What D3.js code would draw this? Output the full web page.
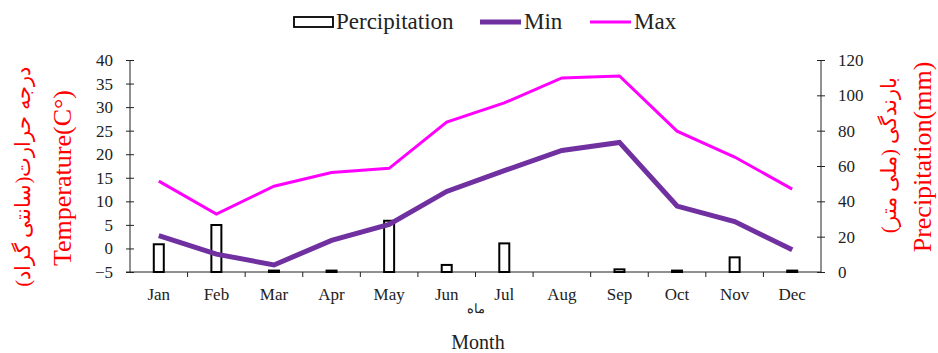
<!DOCTYPE html>
<html>
<head>
<meta charset="utf-8">
<script src="https://cdn.jsdelivr.net/npm/d3@7"></script>
<style>
  body { margin: 0; background: #fff; }
  text { font-family: "Liberation Serif", "Times New Roman", serif; }
</style>
</head>
<body>
<div id="chart"></div>
<script>
// Data
const months = ["Jan", "Feb", "Mar", "Apr", "May", "Jun", "Jul", "Aug", "Sep", "Oct", "Nov", "Dec"];
const precip = [15.7, 26.6, 0.8, 0.8, 29, 4, 16.2, 0, 1.5, 0.8, 8.3, 0.8];
const tMin = [2.7, -1.2, -3.5, 1.7, 5.1, 12.1, 16.5, 20.8, 22.5, 9.0, 5.7, -0.3];
const tMax = [14.3, 7.3, 13.2, 16.1, 17.0, 26.8, 30.9, 36.2, 36.6, 24.9, 19.4, 12.6];
const tempTicks = [-5, 0, 5, 10, 15, 20, 25, 30, 35, 40];
const precipTicks = [0, 20, 40, 60, 80, 100, 120];

const width = 938, height = 353;
const pLeft = 130, pRight = 821, pTop = 60, pBottom = 272;

const svg = d3.select("#chart").append("svg")
    .attr("width", width)
    .attr("height", height);

const x = d3.scaleBand().domain(months).range([pLeft, pRight]);
const yT = d3.scaleLinear().domain([-5, 40]).range([pBottom, pTop]);
const yP = d3.scaleLinear().domain([0, 120]).range([pBottom, pTop]);

// left axis
const gL = svg.append("g").attr("transform", `translate(${pLeft},0)`)
    .call(d3.axisLeft(yT).tickValues(tempTicks).tickSize(4).tickPadding(13));
gL.selectAll(".tick line").attr("x2", 4).attr("x1", -4);
// right axis
const gR = svg.append("g").attr("transform", `translate(${pRight},0)`)
    .call(d3.axisRight(yP).tickValues(precipTicks).tickSize(4).tickPadding(13));
gR.selectAll(".tick line").attr("x1", -4).attr("x2", 4);
[gL, gR].forEach(g => {
    g.select(".domain").attr("d", `M0,${pTop}V${pBottom}`);
    g.selectAll("text").style("font-size", "17px").attr("fill", "#222");
    g.selectAll("line,path").attr("stroke", "#222");
});

// x axis
const gX = svg.append("g").attr("transform", `translate(0,${pBottom})`);
gX.append("line").attr("x1", pLeft - 4).attr("x2", pRight).attr("stroke", "#222");
gX.selectAll(".sep").data(months.slice(1)).enter().append("line")
    .attr("x1", d => x(d)).attr("x2", d => x(d))
    .attr("y1", 0).attr("y2", 5).attr("stroke", "#222");
gX.selectAll(".lab").data(months).enter().append("text")
    .attr("x", d => x(d) + x.bandwidth() / 2)
    .attr("y", 28)
    .attr("text-anchor", "middle")
    .style("font-size", "17px")
    .attr("fill", "#222")
    .text(d => d);

// precipitation bars
const bw = 10;
svg.append("g").selectAll("rect").data(precip).enter().append("rect")
    .attr("x", (d, i) => x(months[i]) + x.bandwidth() / 2 - bw / 2)
    .attr("y", d => yP(d))
    .attr("width", bw)
    .attr("height", d => yP(0) - yP(d))
    .attr("fill", "#fff")
    .attr("stroke", "#000")
    .attr("stroke-width", 2)
    .style("display", d => d > 0 ? null : "none");

const line = d3.line().x((d, i) => x(months[i]) + x.bandwidth() / 2).y(d => yT(d));
svg.append("path").datum(tMax).attr("d", line)
    .attr("fill", "none").attr("stroke", "#FF00FF").attr("stroke-width", 3);
svg.append("path").datum(tMin).attr("d", line)
    .attr("fill", "none").attr("stroke", "#7030A0").attr("stroke-width", 5);

// axis titles
svg.append("text").attr("transform", "translate(71,178) rotate(-90)")
    .attr("text-anchor", "middle").attr("fill", "red").style("font-size", "26px")
    .text("Temperature(C°)");
svg.append("text").attr("transform", "translate(30,177) rotate(-90)")
    .attr("text-anchor", "middle").attr("fill", "red").style("font-size", "21px")
    .attr("direction", "rtl")
    .text("درجه حرارت(سانتی گراد)");
svg.append("text").attr("transform", "translate(931,157) rotate(-90)")
    .attr("text-anchor", "middle").attr("fill", "red").style("font-size", "26px")
    .text("Precipitation(mm)");
svg.append("text").attr("transform", "translate(896,155) rotate(-90)")
    .attr("text-anchor", "middle").attr("fill", "red").style("font-size", "21px")
    .attr("direction", "rtl")
    .text("بارندگی (ملی متر)");
svg.append("text").attr("x", 476).attr("y", 313).attr("text-anchor", "middle")
    .style("font-size", "13px").attr("fill", "#222").text("ماه");
svg.append("text").attr("x", 478).attr("y", 349).attr("text-anchor", "middle")
    .style("font-size", "20px").attr("fill", "#222").text("Month");

// legend
const lg = svg.append("g").style("font-size", "23px");
lg.append("rect").attr("x", 294).attr("y", 17).attr("width", 39).attr("height", 10)
    .attr("fill", "#fff").attr("stroke", "#000").attr("stroke-width", 1.8);
lg.append("text").attr("x", 336).attr("y", 29).attr("fill", "#222").text("Percipitation");
lg.append("line").attr("x1", 480).attr("x2", 521).attr("y1", 22).attr("y2", 22)
    .attr("stroke", "#7030A0").attr("stroke-width", 5);
lg.append("text").attr("x", 524).attr("y", 29).attr("fill", "#222").text("Min");
lg.append("line").attr("x1", 590).attr("x2", 631).attr("y1", 22).attr("y2", 22)
    .attr("stroke", "#FF00FF").attr("stroke-width", 3);
lg.append("text").attr("x", 634).attr("y", 29).attr("fill", "#222").text("Max");
</script>
</body>
</html>
